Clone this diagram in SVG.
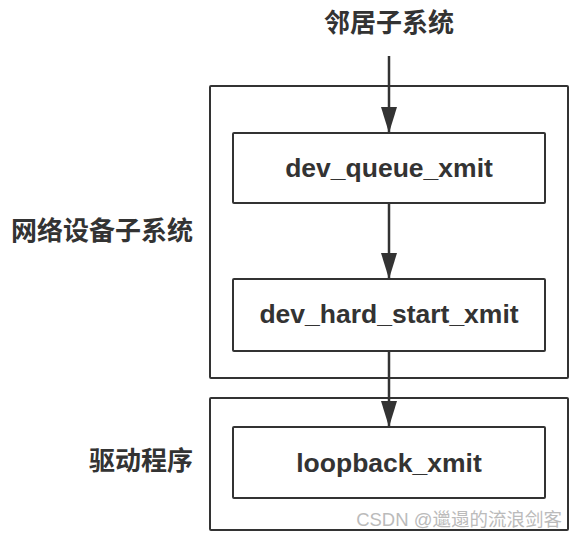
<svg xmlns="http://www.w3.org/2000/svg" width="576" height="538" viewBox="0 0 576 538">
<style>
.box{fill:#fff;stroke:#333;stroke-width:2}
.inner{fill:#fff;stroke:#333;stroke-width:2}
.lbl{font-family:"Liberation Sans",Arial,sans-serif;font-weight:bold;font-size:26.5px;fill:#333;text-anchor:middle}
.cjk{font-family:"Noto Sans CJK SC","Noto Sans",sans-serif;font-weight:bold;font-size:26px;fill:#333}
.edge{stroke:#333;stroke-width:2.5;fill:none}
.wm{font-family:"Liberation Sans","Noto Sans CJK SC",sans-serif;font-size:18.5px;fill:#bbb;text-anchor:end}
</style>
<defs>
<marker id="arr" viewBox="0 0 26 16" refX="26" refY="8" markerWidth="26" markerHeight="16" markerUnits="userSpaceOnUse" orient="auto">
<path d="M0,0 L26,8 L0,16 Z" fill="#333"/>
</marker>
</defs>
<rect width="576" height="538" fill="#fff"/>
<g id="netdev-subsystem">
<rect class="box" x="210" y="86" width="358" height="292" rx="1"/>
<text class="cjk" x="193" y="240" text-anchor="end">网络设备子系统</text>
</g>
<g id="driver">
<rect class="box" x="210" y="398" width="358" height="132" rx="1"/>
<text class="cjk" x="193" y="470" text-anchor="end">驱动程序</text>
</g>
<g id="neighbor">
<text class="cjk" x="389" y="32" text-anchor="middle">邻居子系统</text>
</g>
<g id="dev_queue_xmit">
<rect class="inner" x="233" y="133" width="312" height="70" rx="1"/>
<text class="lbl" x="389" y="177">dev_queue_xmit</text>
</g>
<g id="dev_hard_start_xmit">
<rect class="inner" x="233" y="279" width="312" height="72" rx="1"/>
<text class="lbl" x="389" y="323">dev_hard_start_xmit</text>
</g>
<g id="loopback_xmit">
<rect class="inner" x="233" y="427" width="312" height="71" rx="1"/>
<text class="lbl" x="389" y="472">loopback_xmit</text>
</g>
<g id="connectors">
<line class="edge" x1="389" y1="56" x2="389" y2="133" marker-end="url(#arr)"/>
<line class="edge" x1="389" y1="203" x2="389" y2="279" marker-end="url(#arr)"/>
<line class="edge" x1="389" y1="351" x2="389" y2="427" marker-end="url(#arr)"/>
</g>
<text class="wm" x="562" y="526">CSDN @邋遢的流浪剑客</text>
</svg>
